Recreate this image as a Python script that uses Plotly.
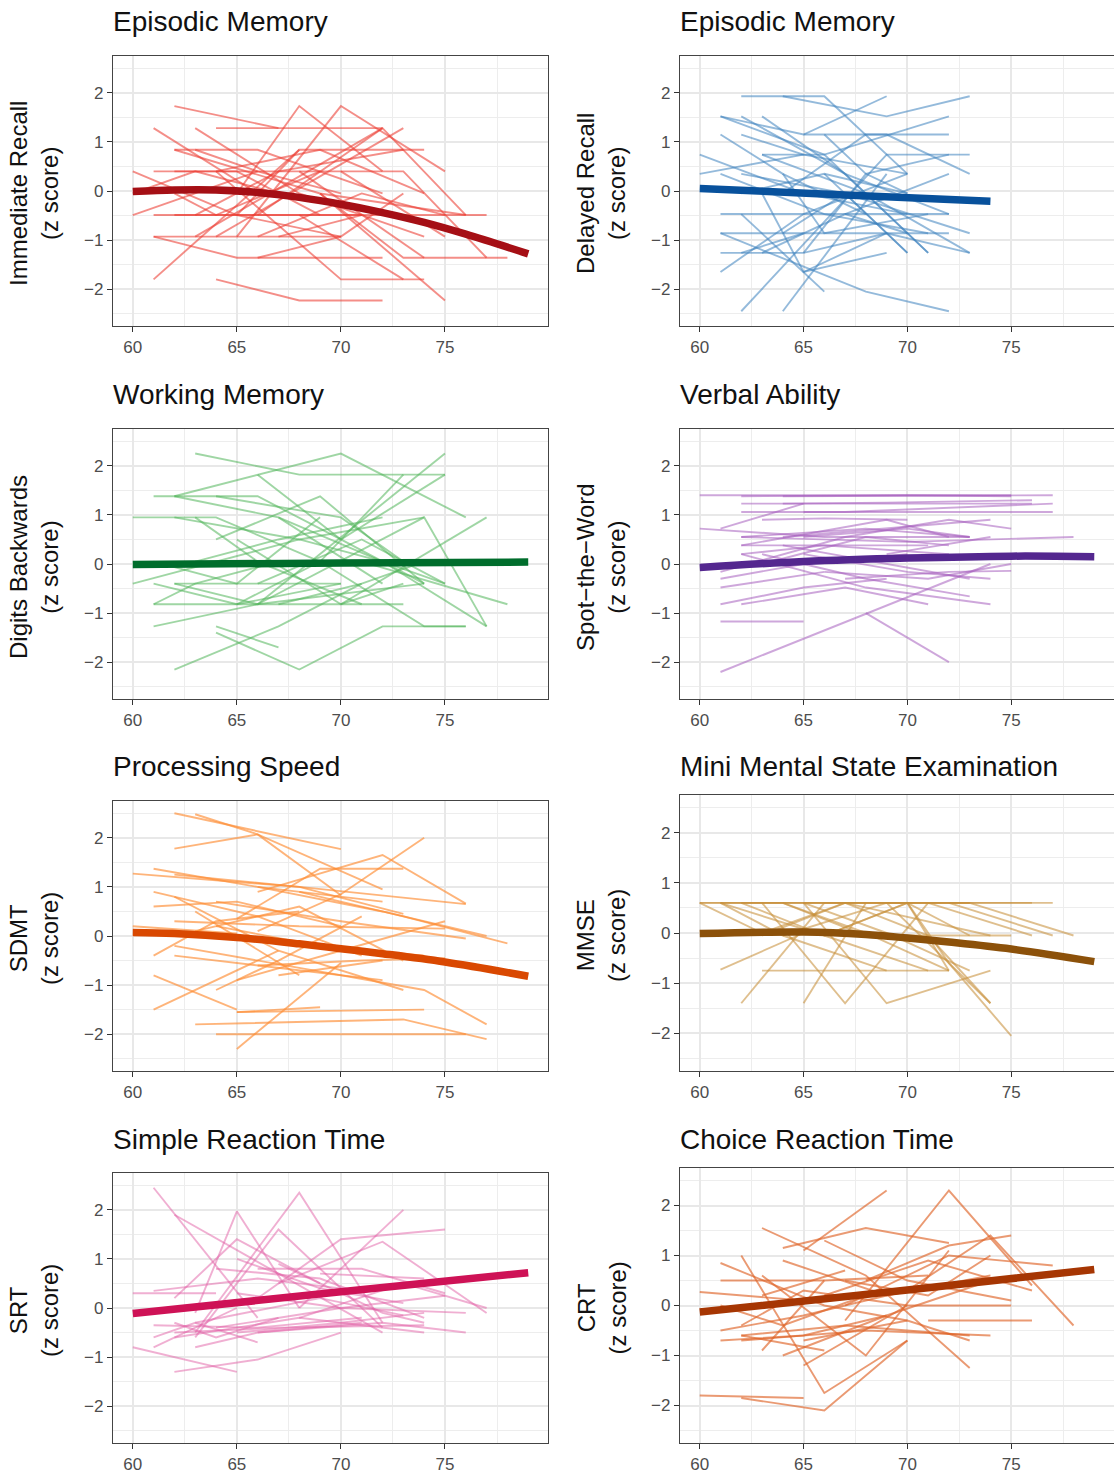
import plotly.graph_objects as go

W, H = 1114, 1477

# ---------------- DATA ----------------
TITLES = ["Episodic Memory", "Episodic Memory", "Working Memory", "Verbal Ability",
          "Processing Speed", "Mini Mental State Examination",
          "Simple Reaction Time", "Choice Reaction Time"]
YLABELS = ["Immediate Recall", "Delayed Recall", "Digits Backwards", "Spot\u2212the\u2212Word",
           "SDMT", "MMSE", "SRT", "CRT"]
X_TICKS = [60, 65, 70, 75]
Y_TICKS = [-2, -1, 0, 1, 2]

IR_AGES = [[62,67],[64,72],[61,66],[63,68,74],[65,68,72],[65,70,75],[66,72,76],[64,73],
           [62,66,72],[65,68,74],[62,69,76],[60,65,70],[60,66],[61,65,69],[62,73,77],
           [61,66,71],[62,70,77],[61,65,70],[61,65,72],[61,68],[64,68,72],[64,70,74],
           [68,73],[69,75],[69,73,78],[68,74],[63,72],[66,71,75],[63,67,73],[67,71],
           [64,69,74],[60,63,67],[62,64,69],[63,66,70],[70,75],[66,70,73]]
IR_Z = [[1.73,1.28],[1.28,1.28],[1.28,-0.05],[1.28,-0.05,-0.93],[-0.05,1.73,0.40],
        [-0.93,1.73,0.40],[-0.49,1.28,-0.49],[-0.93,1.28],[0.84,0.84,-0.05],
        [-0.49,0.84,0.84],[0.84,-0.05,-0.49],[0.40,-0.49,-0.93],[-0.49,0.40],
        [0.40,0.40,-0.49],[0.40,0.40,-1.36],[-0.49,-0.49,-0.49],[-0.49,-0.49,-0.49],
        [-0.93,-0.93,-0.93],[-0.93,-1.36,-1.36],[-1.80,0.84],[-1.80,-2.23,-2.23],
        [0.40,-1.80,-1.80],[-0.49,-1.80],[-0.05,-2.23],[-0.05,-1.36,-1.36],[0.40,-1.36],
        [-0.93,1.28],[-0.93,-0.05,-0.49],[-0.49,0.40,0.84],[-0.93,-0.49],
        [0.40,0.84,-0.05],[-0.05,0.40,-0.05],[-0.05,-0.49,0.40],[0.84,0.40,-0.05],
        [0.40,-0.93],[-1.36,-0.93,-0.05]]
IR_TREND_AGE = [60, 62, 64, 66, 68, 70, 72, 74, 76, 79]
IR_TREND_Z = [-0.01, 0.02, 0.02, -0.03, -0.13, -0.27, -0.44, -0.64, -0.88, -1.28]

DR_AGES = [[62,66,70],[64,69,73],[61,65,69],[61,66,71],[62,67,72],[63,67,71],[62,65,70],
           [64,68,72],[63,66,72],[62,69,73],[64,69],[65,69,73],[60,65,70],[60,65],
           [61,66,71],[61,72],[61,66,72],[61,65,69],[61,65,70],[61,68,72],[62,66],
           [65,69,73],[62,67,73],[63,68,73],[66,70],[67,72],[62,66,70],[63,67,70],
           [64,66,71],[65,68,72],[61,64,68],[66,68,70],[62,65],[64,67,70],[63,65,69]]
DR_Z = [[1.93,1.93,0.35],[1.93,1.52,1.93],[1.52,1.15,1.93],[1.52,0.74,-1.26],
        [1.52,0.35,-0.47],[1.52,0.35,-1.26],[1.15,0.74,0.35],[-0.05,1.15,1.15],
        [0.74,0.74,1.52],[-2.45,0.74,0.74],[-2.45,0.35],[1.15,1.15,0.35],
        [0.74,-0.05,-0.47],[0.35,0.74],[0.35,-0.47,-0.86],[-0.47,-0.47],
        [-0.86,-0.86,-0.86],[-1.26,-1.26,-0.86],[-1.65,-0.47,0.35],[-0.86,-2.05,-2.45],
        [-0.47,-2.05],[-1.65,-0.86,-1.26],[0.35,-0.05,-0.86],[0.74,-0.05,-1.26],
        [0.35,-1.26],[-0.47,0.35],[-0.05,0.35,-0.05],[-1.26,-0.47,-0.86],
        [0.35,-0.86,-0.47],[-1.26,0.35,0.74],[1.15,0.35,-0.47],[1.15,0.35,-0.05],
        [-1.26,-0.86],[-0.86,-0.05,-1.26],[-0.05,-1.65,-1.26]]
DR_TREND_AGE = [60, 67, 74]
DR_TREND_Z = [0.05, -0.08, -0.21]

DB_AGES = [[63,68,75],[62,70,76],[66,70,74],[61,66,70],[62,67,72],[60,64,69],[62,68,74],
           [66,75],[70,75],[66,74,77],[64,68,72,76],[70,77],[62,67,71],[61,66],[64,67],
           [61,73],[62,70],[62,66,74],[71,78],[69,74,76],[60,64,68],[61,65,70],
           [66,71,75],[67,72,75],[63,67,72],[64,69,74],[61,65,69],[65,69,73],
           [63,66,71],[65,70,73],[67,71,74],[68,72,77],[61,63,67],[64,70,73]]
DB_Z = [[2.25,1.82,1.82],[1.38,2.25,0.95],[1.82,0.5,-0.4],[1.38,1.38,0.5],
        [1.38,0.95,-0.4],[0.95,0.95,0.05],[0.95,0.5,0.95],[-0.82,2.25],[0.5,1.82],
        [-0.82,0.95,-1.27],[-1.4,-2.15,-1.27,-1.27],[-0.82,0.95],[-2.15,-1.27,-0.4],
        [-1.27,-0.82],[-1.27,-1.7],[-0.82,-0.82],[-0.4,-0.4],[-0.4,-0.82,-0.4],
        [0.05,-0.82],[0.05,-1.27,-1.27],[-0.4,0.05,0.5],[-0.4,-0.82,-0.4],
        [-0.4,0.5,-0.4],[0.95,0.05,-0.4],[0.05,0.5,0.95],[0.5,1.38,-0.4],
        [0.05,-0.4,0.95],[-0.82,0.05,1.82],[0.95,0.05,-0.82],[0.5,-0.82,-0.4],
        [-0.82,-0.4,0.05],[0.5,0.05,-1.27],[-0.82,-0.4,0.05],[1.38,0.95,0.05]]
DB_TREND_AGE = [60, 70, 79]
DB_TREND_Z = [-0.01, 0.02, 0.04]

SW_AGES = [[60,75],[62,70,75],[64,77],[62,76],[64,69,76],[62,67,77],[65,74,77],[61,65],
           [63,66,70],[60,66,73],[62,68,73],[62,69,72],[62,71],[64,69,74],[67,72,75],
           [62,70,78],[62,66,72],[61,65,70],[61,66],[61,65,69],[62,67,71],[61,65],
           [61,74],[68,72],[62,68,74],[63,68,73],[65,70,74],[64,69,73],[66,71,75],
           [67,72,75],[63,68,72],[61,64,67],[65,70,73],[69,74]]
SW_Z = [[1.4,1.4],[1.38,1.4,1.38],[1.38,1.4],[1.23,1.23],[1.23,1.25,1.3],
        [1.06,1.06,1.23],[1.06,1.06,1.06],[0.72,1.23],[0.9,0.93,0.9],[0.72,0.55,0.55],
        [0.55,0.72,0.55],[0.38,0.9,0.55],[0.38,0.38],[0.55,0.72,0.9],[0.55,0.9,0.72],
        [0.55,0.45,0.55],[0.2,0.38,0.2],[-0.3,0.0,0.2],[-0.48,-0.16],[-0.82,-0.48,-0.3],
        [-0.82,-0.48,-0.82],[-1.17,-1.17],[-2.2,0.0],[-1.0,-2.0],[0.2,-0.48,-0.82],
        [0.2,-0.3,-0.66],[0.2,-0.16,-0.3],[0.38,0.0,-0.3],[-0.16,-0.3,0.0],
        [-0.3,-0.16,-0.14],[0.0,0.55,0.38],[-0.16,0.2,0.55],[0.55,0.72,0.55],[0.2,0.55]]
SW_TREND_AGE = [60, 65, 70, 75, 79]
SW_TREND_Z = [-0.07, 0.05, 0.12, 0.16, 0.15]

SD_AGES = [[62,70],[63,66,70],[62,66,72],[60,68,76],[61,66,72],[62,68,73],[66,72,76],
           [65,69,73],[66,70,74],[65,70],[64,76],[63,73,77],[65,74],[65,69],[61,65],
           [61,67],[62,74,77],[68,73,78],[66,72,77],[64,70,76],[62,68,75],[61,66,71],
           [61,65,70],[63,68,73],[62,66,72],[61,64,68],[64,69,74],[66,71,75],[62,67,73],
           [60,65],[65,70,75],[67,72],[63,68],[64,67,71]]
SD_Z = [[2.5,1.77],[2.48,2.07,0.83],[1.78,2.07,0.95],[1.27,1.0,0.65],[1.37,1.0,0.7],
        [1.25,1.0,0.45],[0.9,1.65,0.66],[0.35,1.37,1.37],[0.1,0.85,2.0],[-2.3,-0.55],
        [-2.0,-2.0],[-1.8,-1.7,-2.1],[-1.55,-1.5],[-1.55,-1.45],[-0.8,-1.5],[-1.5,-0.3],
        [-0.2,-1.1,-1.8],[0.9,0.4,-0.15],[1.0,0.5,0.0],[0.7,0.3,-0.05],[0.3,0.2,0.15],
        [0.9,0.4,-0.4],[0.6,0.7,0.2],[0.1,0.6,-0.5],[-0.4,-0.6,-0.9],[-0.4,0.3,0.5],
        [0.2,-0.2,-0.4],[-0.6,-0.5,-0.45],[0.8,-0.3,-1.1],[0.2,0.05],[-0.9,-0.3,0.3],
        [-0.8,-0.5],[0.5,-0.8],[-1.1,-0.5,0.4]]
SD_TREND_AGE = [60, 62, 65, 68, 70, 72, 75, 79]
SD_TREND_Z = [0.07, 0.05, -0.03, -0.16, -0.26, -0.36, -0.53, -0.82]

MM_AGES = [[60,76],[62,77],[61,73],[65,73],[61,66,71],[62,66],[63,67,71],[65,69,74],
           [65,68],[61,65],[63,72],[70,72,75],[69,74],[65,69,73],[68,75],[71,76],
           [72,77],[73,78],[64,69,73],[62,66,70],[66,70,72],[60,64,68],[63,67,74],
           [61,64,69],[67,71,74],[64,68,72],[60,63,67],[66,70,73]]
MM_Z = [[0.6,0.6],[0.6,0.6],[0.6,0.6],[0.6,0.6],[0.6,-0.05,-0.75],[-1.4,0.6],
        [0.6,-1.4,0.6],[0.6,-1.4,-0.75],[-1.4,0.6],[-0.73,0.0],[-0.75,-0.75],
        [0.6,-0.6,-2.05],[0.6,-1.4],[0.6,0.0,-0.75],[-0.05,-0.05],[0.6,-0.05],
        [0.6,-0.05],[0.6,-0.05],[-0.05,0.6,0.6],[0.6,-0.05,0.6],[-0.05,0.6,-0.75],
        [0.6,0.6,-0.05],[-0.05,0.6,-0.05],[0.6,-0.05,-0.75],[0.6,-0.05,-1.4],
        [0.6,0.0,-0.75],[0.6,0.0,0.6],[0.6,0.6,-0.05]]
MM_TREND_AGE = [60, 65, 68, 70, 72, 75, 79]
MM_TREND_Z = [-0.01, 0.02, -0.03, -0.1, -0.18, -0.32, -0.57]

SR_AGES = [[61,66],[62,72],[63,65,68],[63,68,72],[68,73],[66,70,75],[67,72,77],[63,67,72],
           [62,65,69],[60,64],[60,65],[62,66,70],[61,65],[61,66,71],[62,67,74],
           [62,68,74],[63,69,73],[64,70,75],[65,70,76],[66,72,76],[64,69,74],[65,69,73],
           [61,66,70],[67,72,74],[68,73,77],[63,66,71],[62,64,67],[66,71,75],[65,70,74],
           [69,74],[61,63,66]]
SR_Z = [[2.45,-0.2],[1.9,-0.5],[-0.1,1.97,0.0],[-0.5,2.35,-0.3],[0.0,2.0],[0.2,1.4,1.6],
        [0.5,1.35,-0.1],[-0.6,1.6,-0.4],[0.2,1.4,0.5],[0.3,0.3],[-0.8,-1.3],
        [-1.3,-1.05,-0.5],[-0.8,0.0],[-0.35,-0.4,-0.2],[-0.5,-0.4,-0.35],[-0.6,-0.2,-0.5],
        [-0.3,0.2,-0.15],[-0.4,0.0,0.25],[0.3,0.0,-0.1],[-0.5,-0.3,-0.5],[0.8,0.6,-0.2],
        [1.0,0.4,0.1],[0.35,0.6,0.4],[0.9,-0.1,-0.3],[-0.2,0.5,0.0],[-0.8,-0.5,-0.3],
        [-0.3,-0.6,-0.2],[0.8,0.8,0.3],[-0.5,-0.3,-0.1],[0.7,0.6],[-0.6,-0.3,-0.7]]
SR_TREND_AGE = [60, 70, 79]
SR_TREND_Z = [-0.11, 0.33, 0.72]

CR_AGES = [[62,66,70],[62,66,70],[67,72,76],[65,69],[63,68,73],[64,68,72],[68,72,75],
           [67,72,77],[70,74,78],[71,76],[62,66],[61,66],[61,66,70],[60,65],[63,68,72],
           [60,65],[61,65,70],[62,67,73],[62,68,74],[64,69,74],[65,70,75],[63,66,71],
           [66,71,76],[65,70,73],[64,69,74],[66,70,75],[61,64,68],[62,65,70],[67,71,74],
           [63,67],[61,65,69]]
CR_Z = [[-1.85,-2.1,-0.7],[1.0,-1.75,-0.7],[-0.3,2.3,0.4],[1.1,2.3],[1.55,0.6,-1.25],
        [1.15,1.55,1.25],[0.5,1.2,1.4],[0.0,1.0,0.8],[0.3,1.4,-0.4],[-0.3,-0.3],
        [-0.6,-0.9],[0.5,0.5],[0.85,0.0,-0.3],[0.27,0.1],[0.6,-1.0,1.1],[-1.8,-1.85],
        [-0.5,-0.2,0.3],[-0.6,-0.4,-0.6],[-0.7,-0.5,-0.6],[-1.0,-0.2,0.5],[-1.2,0.0,0.0],
        [-0.9,0.5,0.6],[0.2,0.9,0.3],[-0.7,-0.3,-0.7],[0.9,0.2,0.6],[1.3,0.5,0.1],
        [0.0,-0.4,0.2],[-0.4,0.3,0.0],[0.5,0.2,1.0],[0.2,0.7],[-0.7,-0.6,-0.2]]
CR_TREND_AGE = [60, 70, 79]
CR_TREND_Z = [-0.13, 0.31, 0.72]

# ---------------- STYLE ----------------
LINE_COLORS = ["rgba(236,60,50,0.58)", "rgba(60,130,190,0.55)", "rgba(80,180,90,0.55)",
               "rgba(165,95,190,0.55)", "rgba(253,140,50,0.65)", "rgba(200,145,60,0.58)",
               "rgba(225,95,165,0.5)", "rgba(222,100,40,0.65)"]
TREND_COLORS = ["#A50F15", "#08519C", "#006D2C", "#54278F",
                "#D94801", "#8C510A", "#CE1256", "#A63603"]

data_sets = [(IR_AGES, IR_Z, IR_TREND_AGE, IR_TREND_Z),
             (DR_AGES, DR_Z, DR_TREND_AGE, DR_TREND_Z),
             (DB_AGES, DB_Z, DB_TREND_AGE, DB_TREND_Z),
             (SW_AGES, SW_Z, SW_TREND_AGE, SW_TREND_Z),
             (SD_AGES, SD_Z, SD_TREND_AGE, SD_TREND_Z),
             (MM_AGES, MM_Z, MM_TREND_AGE, MM_TREND_Z),
             (SR_AGES, SR_Z, SR_TREND_AGE, SR_TREND_Z),
             (CR_AGES, CR_Z, CR_TREND_AGE, CR_TREND_Z)]

# pixel boxes (x0, x1, y0, y1)
BOXES = [(113, 548, 56, 326), (680, 1114, 56, 326),
         (113, 548, 429, 699), (680, 1114, 429, 699),
         (113, 548, 801, 1071), (680, 1114, 795, 1071),
         (113, 548, 1173, 1443), (680, 1114, 1168, 1443)]
TITLE_Y = [22, 22, 394, 394, 766, 766, 1139, 1139]

FONT = "Liberation Sans, Arial, Helvetica, sans-serif"

fig = go.Figure()
layout = {}
annotations = []

for i, (ages_list, z_list, t_age, t_z) in enumerate(data_sets):
    n = i + 1
    xa = "x" if n == 1 else f"x{n}"
    ya = "y" if n == 1 else f"y{n}"
    for ages, zs in zip(ages_list, z_list):
        fig.add_trace(go.Scatter(x=ages, y=zs, mode="lines", xaxis=xa, yaxis=ya,
                                 line=dict(color=LINE_COLORS[i], width=1.9),
                                 hoverinfo="skip", showlegend=False))
    fig.add_trace(go.Scatter(x=t_age, y=t_z, mode="lines", xaxis=xa, yaxis=ya,
                             line=dict(color=TREND_COLORS[i], width=7.5, shape="spline"),
                             hoverinfo="skip", showlegend=False))
    x0, x1, y0, y1 = BOXES[i]
    right_col = (i % 2 == 1)
    common = dict(showgrid=True, gridcolor="#E8E8E8", gridwidth=1.5, zeroline=False,
                  showline=True, linecolor="#444444", linewidth=1.3,
                  ticks="outside", ticklen=5, tickwidth=1.3, tickcolor="#333333",
                  tickfont=dict(family=FONT, size=17, color="#4D4D4D"))
    layout[f"xaxis{n}"] = dict(common, domain=[x0 / W, x1 / W], anchor=ya,
                               range=[59.05, 79.95], tickvals=X_TICKS,
                               mirror=True,
                               minor=dict(tickvals=[62.5, 67.5, 72.5, 77.5], showgrid=True,
                                          gridcolor="#EDEDED", gridwidth=0.9, ticklen=0))
    layout[f"yaxis{n}"] = dict(common, domain=[1 - y1 / H, 1 - y0 / H], anchor=xa,
                               range=[-2.75, 2.75], tickvals=Y_TICKS,
                               mirror=(not right_col),
                               minor=dict(tickvals=[-2.5, -1.5, -0.5, 0.5, 1.5, 2.5],
                                          showgrid=True, gridcolor="#EDEDED",
                                          gridwidth=0.9, ticklen=0))
    annotations.append(dict(text=TITLES[i], x=(x0 - 2) / W, y=1 - TITLE_Y[i] / H,
                            xref="paper", yref="paper", xanchor="left", yanchor="middle",
                            showarrow=False, font=dict(family=FONT, size=28, color="#111111")))
    annotations.append(dict(text=f"{YLABELS[i]}<br>(z score)", x=(x0 - 79) / W,
                            y=1 - ((y0 + y1) / 2 + 3) / H, xref="paper", yref="paper",
                            xanchor="center", yanchor="middle", textangle=-90,
                            showarrow=False,
                            font=dict(family=FONT, size=24, color="#111111")))

fig.update_layout(width=W, height=H, margin=dict(l=0, r=0, t=0, b=0),
                  paper_bgcolor="white", plot_bgcolor="white",
                  annotations=annotations, showlegend=False, **layout)

fig.write_html("out.html")
